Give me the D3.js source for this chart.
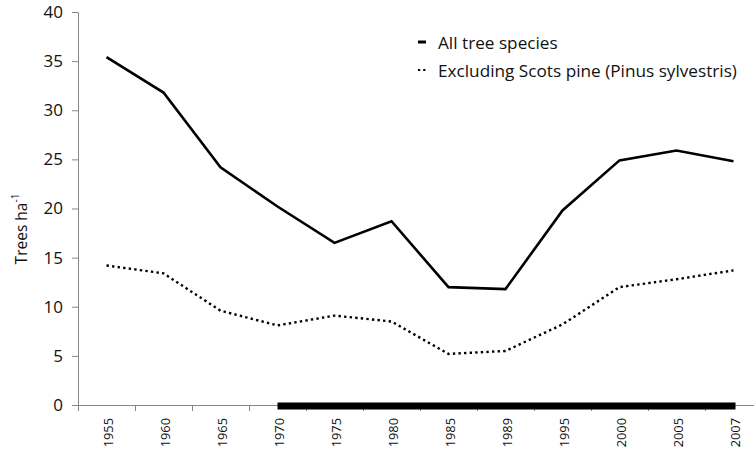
<!DOCTYPE html>
<html>
<head>
<meta charset="utf-8">
<script src="https://cdn.jsdelivr.net/npm/d3@7/dist/d3.min.js"></script>
<style>
  html, body { margin: 0; padding: 0; background: #fff; }
  svg { display: block; font-family: "Open Sans", Lato, sans-serif; }
</style>
</head>
<body>
<svg id="chart" width="754" height="450"></svg>
<script>
const years = ["1955","1960","1965","1970","1975","1980","1985","1989","1995","2000","2005","2007"];
const allSpecies = [35.4, 31.8, 24.2, 20.2, 16.5, 18.7, 12.0, 11.8, 19.8, 24.9, 25.9, 24.8];
const excludingPine = [14.2, 13.4, 9.6, 8.1, 9.1, 8.5, 5.2, 5.5, 8.2, 12.0, 12.8, 13.7];
const yTicks = [0, 5, 10, 15, 20, 25, 30, 35, 40];
const barPeriod = ["1970", "2007"];
const seriesNames = ["All tree species", "Excluding Scots pine (Pinus sylvestris)"];

(function () {
const svg = d3.select("#chart");
const pLeft = 78, pRight = 762, pTop = 12, pBottom = 405;
const axisColor = "#868686";
const font = "'Open Sans', Lato, sans-serif";

const x = d3.scaleBand().domain(years).range([pLeft, pRight]).padding(0);
const xc = d => x(d) + x.bandwidth() / 2;
const y = d3.scaleLinear().domain([0, 40]).range([pBottom, pTop]);

// Y axis
const yAxis = svg.append("g")
  .attr("transform", `translate(${pLeft},0)`)
  .call(d3.axisLeft(y).tickValues(yTicks).tickSize(6).tickSizeOuter(0).tickPadding(9));
yAxis.select(".domain").attr("stroke", axisColor);
yAxis.selectAll(".tick line").attr("stroke", axisColor);
yAxis.selectAll(".tick text").attr("font-size", 17).attr("fill", "#111")
  .attr("font-family", font);

// X axis line
svg.append("line")
  .attr("x1", pLeft).attr("x2", pRight)
  .attr("y1", pBottom + 0.5).attr("y2", pBottom + 0.5)
  .attr("stroke", axisColor).attr("stroke-width", 1);

// X ticks at band boundaries
const boundaries = years.map(d => x(d)).concat([x.range()[1]]);
svg.append("g").selectAll("line").data(boundaries).join("line")
  .attr("x1", d => Math.round(d) + 0.5).attr("x2", d => Math.round(d) + 0.5)
  .attr("y1", pBottom).attr("y2", pBottom + 6)
  .attr("stroke", axisColor);

// X labels
svg.append("g").selectAll("text").data(years).join("text")
  .attr("transform", d => `translate(${xc(d) + 1},${pBottom + 13}) rotate(-90)`)
  .attr("text-anchor", "end")
  .attr("dominant-baseline", "central")
  .attr("font-size", 12.8)
  .attr("fill", "#111")
  .text(d => d);

// Thick bar on x axis
svg.append("line")
  .attr("x1", xc(barPeriod[0])).attr("x2", xc(barPeriod[1]) + 2)
  .attr("y1", pBottom + 1).attr("y2", pBottom + 1)
  .attr("stroke", "#000").attr("stroke-width", 7);

// Lines
const line = d3.line().x((d, i) => xc(years[i])).y(d => y(d));
svg.append("path").datum(excludingPine)
  .attr("d", line).attr("fill", "none").attr("stroke", "#000")
  .attr("stroke-width", 2.4).attr("stroke-dasharray", "2.4 3.2");
svg.append("path").datum(allSpecies)
  .attr("d", line).attr("fill", "none").attr("stroke", "#000")
  .attr("stroke-width", 2.6).attr("stroke-linejoin", "miter");

// Y axis title
const title = svg.append("text")
  .attr("transform", "translate(21,229) rotate(-90)")
  .attr("text-anchor", "middle")
  .attr("dominant-baseline", "central")
  .attr("font-size", 15.5)
  .attr("fill", "#111");
title.append("tspan").text("Trees ha");
title.append("tspan").attr("font-size", 10).attr("dy", -6).text("-1");

// Legend
const legend = svg.append("g");
const rows = [{ name: seriesNames[0], y: 42, dash: null, w: 3 }, { name: seriesNames[1], y: 70, dash: "2.2 3", w: 2.2 }];
legend.selectAll("line").data(rows).join("line")
  .attr("x1", 418).attr("x2", 426)
  .attr("y1", d => d.y).attr("y2", d => d.y)
  .attr("stroke", "#000")
  .attr("stroke-width", d => d.w)
  .attr("stroke-dasharray", d => d.dash);
legend.selectAll("text").data(rows).join("text")
  .attr("x", 438).attr("y", d => d.y)
  .attr("dominant-baseline", "central")
  .attr("font-size", 17.2)
  .attr("fill", "#111")
  .text(d => d.name);
})();
</script>
</body>
</html>
